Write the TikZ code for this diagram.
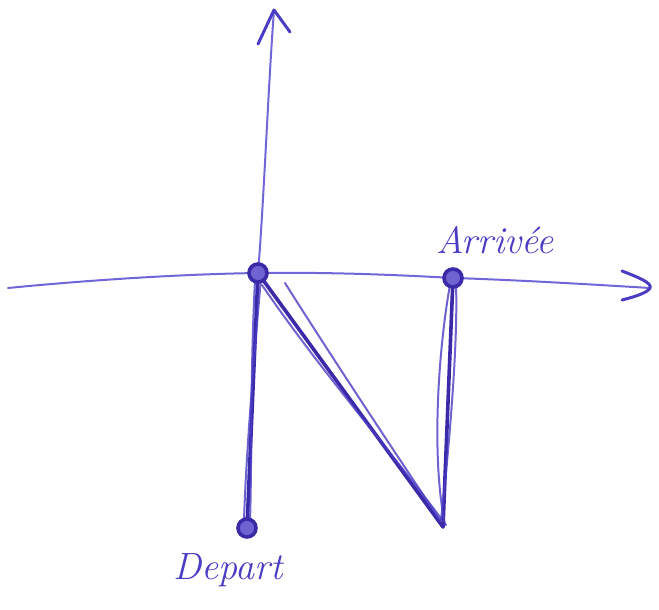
\documentclass[tikz,border=0pt]{standalone}
\usetikzlibrary{arrows.meta}
\definecolor{ink}{HTML}{4A3CC4}
\definecolor{inkdark}{HTML}{3A2AA8}
\definecolor{inklight}{HTML}{7066D8}
\tikzset{
  axisline/.style={draw=inklight, line width=1pt, line cap=round},
  barb/.style={draw=ink, line width=1.5pt, line cap=round, line join=round},
  stroke/.style={draw=inkdark, line width=1.8pt, line cap=round},
  faint/.style={draw=ink, line width=1pt, line cap=round, opacity=0.8},
  dot/.style={circle, draw=inkdark, line width=1.8pt, fill=ink!80, minimum size=9pt, inner sep=0pt},
  hand/.style={text=ink, font=\fontsize{19}{21}\selectfont\itshape}
}
\begin{document}
\begin{tikzpicture}[x=0.5pt, y=-0.5pt]
\useasboundingbox (0,0) rectangle (659,610);
% points
\coordinate (O) at (258,273);
\coordinate (A) at (453,278);
\coordinate (D) at (247,528);
\coordinate (B) at (443,527);
\coordinate (L) at (8,288);
\coordinate (R) at (650,288);
\coordinate (T) at (274,10);
\coordinate (Tl) at (258,44);
\coordinate (Tr) at (290,32);
\coordinate (Ru) at (622,271);
\coordinate (Rd) at (622,300);
% axes
\draw[axisline] (L) .. controls (100,279) and (190,274) .. (O)
  .. controls (330,272) and (400,275) .. (A)
  .. controls (520,280) and (600,285) .. (R);
\draw[axisline] (O) .. controls (264,200) and (268,90) .. (T);
\draw[barb] (Tl) -- (T) -- (Tr);
\draw[barb] (Ru) .. controls (640,278) and (652,283) .. (R) .. controls (648,292) and (638,296) .. (Rd);
% N strokes
\draw[stroke] (O) -- (D);
\draw[faint] (261,278) .. controls (252,380) and (246,460) .. (244,520);
\draw[faint] (255,280) .. controls (250,380) and (252,460) .. (250,522);
\draw[stroke] (O) -- (B);
\draw[faint] (285,283) .. controls (340,370) and (400,460) .. (440,520);
\draw[faint] (262,285) .. controls (320,370) and (390,450) .. (446,525);
\draw[stroke] (B) -- (A);
\draw[faint] (445,525) .. controls (430,450) and (440,340) .. (450,285);
\draw[faint] (441,520) .. controls (450,440) and (458,340) .. (456,285);
% dots
\node[dot] (o) at (O) {};
\node[dot] (a) at (A) {};
\node[dot] (d) at (D) {};
% labels
\node[hand] (arr) at (495,240) {Arrivée};
\node[hand] (dep) at (228,570) {Depart};
\end{tikzpicture}
\end{document}
